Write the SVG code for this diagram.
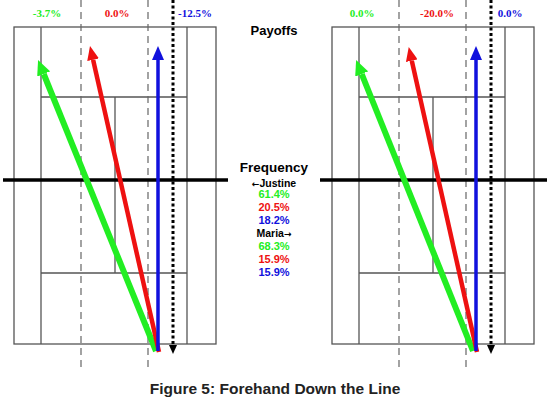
<svg xmlns="http://www.w3.org/2000/svg" width="550" height="399" viewBox="0 0 550 399">
<style>
.court{fill:none;stroke:#555;stroke-width:1.3}
.dash{stroke:#666;stroke-width:1.2;stroke-dasharray:7,5;fill:none}
.net{stroke:#000;stroke-width:3.5}
.dot{stroke:#000;stroke-width:3;stroke-dasharray:3,2.5;fill:none}
.pay{font-family:"Liberation Serif",serif;font-weight:bold;font-size:11px;text-anchor:middle}
.sans{font-family:"Liberation Sans","DejaVu Sans",sans-serif;font-weight:bold;text-anchor:middle}
.arr{font-family:"DejaVu Sans",sans-serif;font-weight:bold}
.g{fill:#22ee22}.r{fill:#ee1111}.b{fill:#1111dd}
</style>
<defs>
<marker id="hg" markerUnits="userSpaceOnUse" markerWidth="16" markerHeight="14" refX="0" refY="7" orient="auto"><path d="M0,0 L15,7 L0,14 z" fill="#22ee22"/></marker>
<marker id="hr" markerUnits="userSpaceOnUse" markerWidth="16" markerHeight="12" refX="0" refY="6" orient="auto"><path d="M0,0 L14,6 L0,12 z" fill="#ee1111"/></marker>
<marker id="hb" markerUnits="userSpaceOnUse" markerWidth="16" markerHeight="12" refX="0" refY="6" orient="auto"><path d="M0,0 L14,6 L0,12 z" fill="#1111dd"/></marker>
<marker id="hk" markerUnits="userSpaceOnUse" markerWidth="10" markerHeight="8" refX="0" refY="4" orient="auto"><path d="M0,0 L9,4 L0,8 z" fill="#000"/></marker>
<g id="courtShape">
<rect class="court" x="14" y="27" width="202" height="317"/>
<line class="court" x1="41" y1="27" x2="41" y2="344"/>
<line class="court" x1="187" y1="27" x2="187" y2="344"/>
<line class="court" x1="41" y1="97" x2="187" y2="97"/>
<line class="court" x1="41" y1="273" x2="187" y2="273"/>
<line class="court" x1="115" y1="97" x2="115" y2="273"/>
</g>
</defs>

<g id="court-left">
<use href="#courtShape"/>
<line class="dash" x1="81" y1="0" x2="81" y2="368"/>
<line class="dash" x1="148" y1="0" x2="148" y2="368"/>
<line class="net" x1="3" y1="180" x2="228" y2="180"/>
<text class="pay g" x="47" y="17">-3.7%</text>
<text class="pay r" x="117" y="17">0.0%</text>
<text class="pay b" x="195" y="17">-12.5%</text>
</g>

<g id="court-right">
<use href="#courtShape" transform="translate(318,0)"/>
<line class="dash" x1="399" y1="0" x2="399" y2="368"/>
<line class="dash" x1="466" y1="0" x2="466" y2="368"/>
<line class="net" x1="320" y1="180" x2="547" y2="180"/>
<text class="pay g" x="362" y="17">0.0%</text>
<text class="pay r" x="437" y="17">-20.0%</text>
<text class="pay b" x="510" y="17">0.0%</text>
</g>

<g id="legend">
<text class="sans" x="274" y="35" font-size="13">Payoffs</text>
<text class="sans" x="274" y="172" font-size="13.5">Frequency</text>
<text class="sans" x="274" y="187" font-size="10.5"><tspan class="arr" font-size="9">←</tspan>Justine</text>
<text class="sans g" x="274" y="198" font-size="11">61.4%</text>
<text class="sans r" x="274" y="211" font-size="11">20.5%</text>
<text class="sans b" x="274" y="224" font-size="11">18.2%</text>
<text class="sans" x="274" y="237" font-size="10.5">Maria<tspan class="arr" font-size="9">→</tspan></text>
<text class="sans g" x="274" y="250" font-size="11">68.3%</text>
<text class="sans r" x="274" y="263" font-size="11">15.9%</text>
<text class="sans b" x="274" y="276" font-size="11">15.9%</text>
</g>

<g id="connectors">
<line class="dot" x1="173" y1="0" x2="173" y2="345" marker-end="url(#hk)"/>
<line x1="156" y1="351" x2="43.7" y2="74" stroke="#22ee22" stroke-width="6" marker-end="url(#hg)"/>
<line x1="159" y1="352" x2="93.1" y2="59.7" stroke="#ee1111" stroke-width="4.5" marker-end="url(#hr)"/>
<line x1="158" y1="351" x2="158" y2="60" stroke="#1111dd" stroke-width="3.5" marker-end="url(#hb)"/>

<line class="dot" x1="491" y1="0" x2="491" y2="345" marker-end="url(#hk)"/>
<line x1="473" y1="351" x2="361.7" y2="74" stroke="#22ee22" stroke-width="6" marker-end="url(#hg)"/>
<line x1="477" y1="352" x2="411.8" y2="60.7" stroke="#ee1111" stroke-width="4.5" marker-end="url(#hr)"/>
<line x1="476" y1="351" x2="476" y2="60" stroke="#1111dd" stroke-width="3.5" marker-end="url(#hb)"/>
</g>

<text class="sans" x="275" y="394" font-size="15.5" fill="#222">Figure 5: Forehand Down the Line</text>
</svg>
